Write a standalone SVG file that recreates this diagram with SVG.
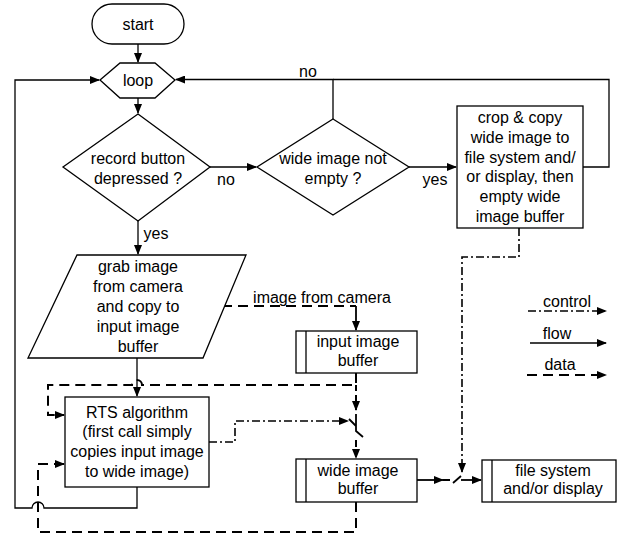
<svg xmlns="http://www.w3.org/2000/svg" width="624" height="537" viewBox="0 0 624 537">
<defs>
<style>
text{font-family:"Liberation Sans",Arial,sans-serif;font-size:16px;fill:#000;text-anchor:middle}
.sh{fill:#fff;stroke:#000;stroke-width:1.3}
.flow{fill:none;stroke:#000;stroke-width:1.3}
.data{fill:none;stroke:#000;stroke-width:2;stroke-dasharray:10,6}
.ctrl{fill:none;stroke:#000;stroke-width:1.6;stroke-dasharray:8,3,2,3}
.sw{fill:none;stroke:#000;stroke-width:1.8}
</style>
<marker id="ah" markerUnits="userSpaceOnUse" markerWidth="10" markerHeight="8" refX="9" refY="4" orient="auto"><path d="M0,0 L10,4 L0,8 Z" fill="#000"/></marker>
</defs>
<rect width="624" height="537" fill="#fff"/>
<g id="connectors">
<path class="flow" d="M138,44 V62" marker-end="url(#ah)"/>
<path class="flow" d="M138,98 V113" marker-end="url(#ah)"/>
<path class="flow" d="M210,167 H256" marker-end="url(#ah)"/>
<path class="flow" d="M409,167 H456" marker-end="url(#ah)"/>
<path class="flow" d="M333,119 V79.5 H176" marker-end="url(#ah)"/>
<path class="flow" d="M583,167 H609 V79.5 H333"/>
<path class="flow" d="M138,221 V254" marker-end="url(#ah)"/>
<path class="flow" d="M137,358 V396" marker-end="url(#ah)"/>
<path class="flow" d="M137,487 V508 H44 A6,6 0 0 0 32,508 H15 V80 H99" marker-end="url(#ah)"/>
<path class="data" d="M222,306 H356"/>
<path class="flow" d="M356,306 V330" marker-end="url(#ah)" style="stroke-width:1.8"/>
<path class="data" d="M356,373 V385 H142 A5,5 0 0 0 132,385 H48 V415 H58" style="stroke-dasharray:10,6"/>
<path class="flow" d="M56,415 H64" marker-end="url(#ah)" style="stroke-width:2"/>
<path class="data" d="M356,385 V410" marker-end="url(#ah)" style="stroke-dasharray:6,4"/>
<path class="sw" d="M349,419 L356,426 M356,414 V431 L363,437"/>
<path class="data" d="M356,440 V458" marker-end="url(#ah)" style="stroke-dasharray:7,3"/>
<path class="data" d="M356,502 V532 H38 V464 H58"/>
<path class="flow" d="M56,464 H64" marker-end="url(#ah)" style="stroke-width:2"/>
<path class="ctrl" d="M209,442 H235 V421 H348" marker-end="url(#ah)"/>
<path class="ctrl" d="M519,228 V257 H462 V472" marker-end="url(#ah)"/>
<path class="flow" d="M417,480 H443" marker-end="url(#ah)" style="stroke-width:1.8"/>
<path class="data" d="M443,480 H450" style="stroke-dasharray:none"/>
<path class="sw" d="M453,483 L461,476"/>
<path class="flow" d="M461,480 H481" marker-end="url(#ah)" style="stroke-width:1.8"/>
</g>
<g id="start"><rect class="sh" x="92" y="4" width="92" height="40" rx="20"/><text x="138" y="30">start</text></g>
<g id="loop"><polygon class="sh" points="100,80 120,63 155,63 175,80 155,98 120,98"/><text x="138" y="86">loop</text></g>
<g id="record"><polygon class="sh" points="138,114 210,167 138,221 63,167"/><text x="138" y="164">record button</text><text x="138" y="184">depressed ?</text></g>
<g id="wide-empty"><polygon class="sh" points="333,119 409,167 333,215 257,167"/><text x="333" y="164">wide image not</text><text x="333" y="184">empty ?</text></g>
<g id="crop"><rect class="sh" x="457" y="106" width="126" height="122"/>
<text x="520" y="123">crop &amp; copy</text><text x="520" y="143">wide image to</text><text x="520" y="163">file system and/</text><text x="520" y="182">or display, then</text><text x="520" y="202">empty wide</text><text x="520" y="222">image buffer</text></g>
<g id="grab"><polygon class="sh" points="77,255 246,255 203,358 28,358"/>
<text x="138" y="272">grab image</text><text x="138" y="292">from camera</text><text x="138" y="312">and copy to</text><text x="138" y="332">input image</text><text x="138" y="352">buffer</text></g>
<g id="input-buffer"><rect class="sh" x="296" y="331" width="121" height="42"/><line class="flow" x1="306" y1="331" x2="306" y2="373"/><text x="358" y="347">input image</text><text x="358" y="366">buffer</text></g>
<g id="rts"><rect class="sh" x="65" y="397" width="144" height="90"/>
<text x="137" y="418">RTS algorithm</text><text x="137" y="437">(first call simply</text><text x="137" y="457">copies input image</text><text x="137" y="477">to wide image)</text></g>
<g id="wide-buffer"><rect class="sh" x="296" y="459" width="121" height="43"/><line class="flow" x1="306" y1="459" x2="306" y2="502"/><text x="358" y="476">wide image</text><text x="358" y="494">buffer</text></g>
<g id="file-system"><rect class="sh" x="482" y="460" width="134" height="42"/><line class="flow" x1="492" y1="460" x2="492" y2="502"/><text x="553" y="476">file system</text><text x="553" y="494">and/or display</text></g>
<g id="labels">
<text x="226" y="185">no</text>
<text x="435" y="185">yes</text>
<text x="308" y="77">no</text>
<text x="156" y="239">yes</text>
<text x="322" y="303">image from camera</text>
</g>
<g id="legend">
<text x="567" y="307">control</text>
<path class="ctrl" d="M528,311 H606" marker-end="url(#ah)"/>
<text x="557" y="339">flow</text>
<path class="flow" d="M530,343 H606" marker-end="url(#ah)"/>
<text x="560" y="370">data</text>
<path class="data" d="M527,375 H606" marker-end="url(#ah)"/>
</g>
</svg>
